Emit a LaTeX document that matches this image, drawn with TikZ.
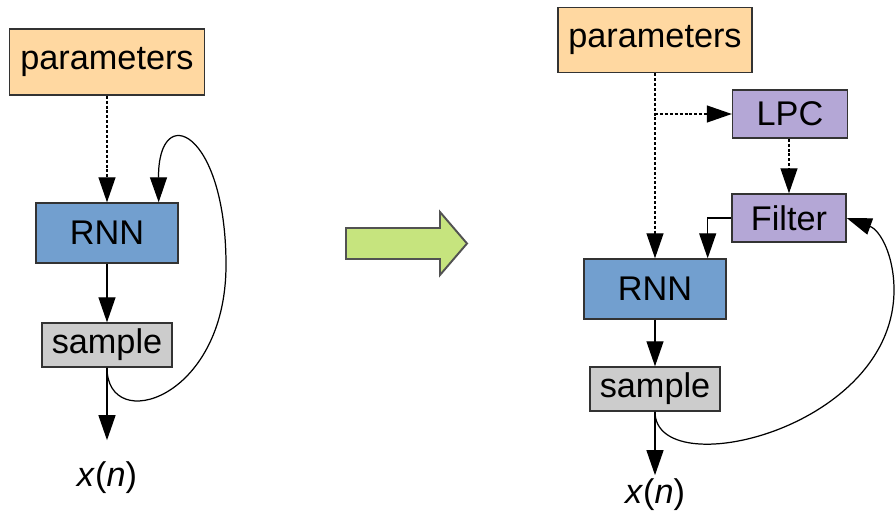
\documentclass[tikz,border=0pt]{standalone}
\usepackage{fontspec}
\setmainfont{Liberation Sans}
\usetikzlibrary{arrows.meta, positioning, calc}
\definecolor{parorange}{HTML}{FFD8A1}
\definecolor{rnnblue}{HTML}{729FCF}
\definecolor{smpgray}{HTML}{CCCCCC}
\definecolor{lpcpurple}{HTML}{B4A7D6}
\definecolor{bigarrowgreen}{HTML}{C6E47E}
\definecolor{edgegray}{HTML}{333333}

\begin{document}
\begin{tikzpicture}[
  x=0.02cm, y=-0.02cm,
  every node/.style={font=\fontsize{19.5}{23}\selectfont},
  box/.style={rectangle, draw=edgegray, line width=0.8pt, fill=#1, align=center, inner sep=0pt},
  arr/.style={-{Triangle[length=0.5cm, width=0.34cm]}, line width=0.7pt},
  dotarr/.style={arr, dash pattern=on 1.7pt off 1.1pt},
]
\useasboundingbox (0,0) rectangle (896,514);

% Left: plain RNN
\node[box=parorange, minimum width=3.9cm, minimum height=1.32cm] (par1) at (107, 62) {parameters};
\node[box=rnnblue, minimum width=2.84cm, minimum height=1.2cm] (rnn1) at (107, 233) {RNN};
\node[box=smpgray, minimum width=2.6cm, minimum height=0.88cm] (smp1) at (107, 345) {sample};
\node[inner sep=2pt] (out1) at (107, 478) {\textit{x}(\textit{n})};

\draw[dotarr] (par1) -- (rnn1);
\draw[arr] (rnn1) -- (smp1);
\draw[arr, shorten >=0.36cm] (smp1) -- (out1);
\draw[arr] (smp1.south) .. controls (107, 435) and (226, 400) .. (226, 265)
  .. controls (226, 130) and (158, 100) .. ($(rnn1.north east)+(-20,0)$);

% Transition arrow
\draw[draw=edgegray!85, line width=1.1pt, fill=bigarrowgreen, line join=miter]
  (346, 228) -- (440, 228) -- (440, 212) -- (467, 243.5) -- (440, 275) -- (440, 259) -- (346, 259) -- cycle;

% Right: RNN with LPC filter
\node[box=parorange, minimum width=3.88cm, minimum height=1.3cm] (par2) at (655, 40) {parameters};
\node[box=lpcpurple, minimum width=2.3cm, minimum height=0.96cm] (lpc) at (790, 114) {LPC};
\node[box=lpcpurple, minimum width=2.28cm, minimum height=0.96cm] (filt) at (789, 218) {Filter};
\node[box=rnnblue, minimum width=2.84cm, minimum height=1.2cm] (rnn2) at (655, 289) {RNN};
\node[box=smpgray, minimum width=2.6cm, minimum height=0.88cm] (smp2) at (655, 389) {sample};
\node[inner sep=2pt] (out2) at (655, 495) {\textit{x}(\textit{n})};

\coordinate (split) at (par2.south |- lpc.west);
\draw[dotarr] (par2) -- (rnn2);
\draw[dotarr] (split) -- (lpc.west);
\draw[dotarr] (lpc.south -| filt.north) -- (filt.north);
\draw[arr] (filt.west) -| ($(rnn2.north east)+(-19,0)$);
\draw[arr] (rnn2) -- (smp2);
\draw[arr] (smp2) -- (out2);
\draw[arr] (smp2.south) .. controls (655, 485) and (894, 430) .. (894, 290)
  .. controls (894, 255) and (880, 230) .. (filt.east);

\end{tikzpicture}
\end{document}
